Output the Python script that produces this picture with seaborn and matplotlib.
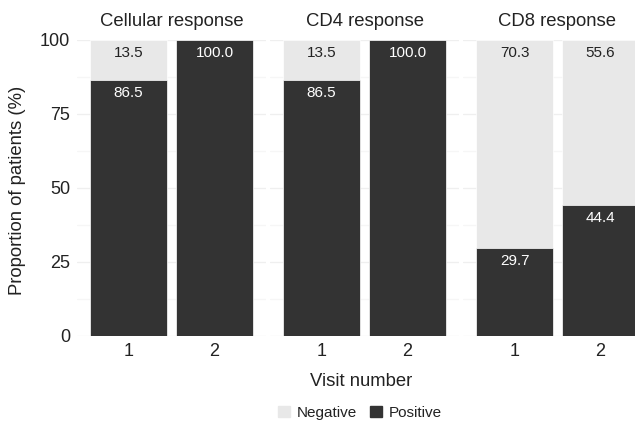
import matplotlib
matplotlib.use("Agg")
import matplotlib.pyplot as plt
import matplotlib.patches as mpatches
import seaborn as sns
import pandas as pd

# ── Data ──────────────────────────────────────────────────────────────────────
PANELS   = ["Cellular response", "CD4 response", "CD8 response"]
VISITS   = ["1", "2"]
POSITIVE = [[86.5, 100.0], [86.5, 100.0], [29.7, 44.4]]
NEGATIVE = [[13.5, 0.0],   [13.5, 0.0],   [70.3, 55.6]]

# ── Style ─────────────────────────────────────────────────────────────────────
NEG_COLOR  = "#e8e8e8"
POS_COLOR  = "#333333"
TEXT_COLOR = "#222222"
W, H = 635, 422

sns.set_theme(style="white")
plt.rcParams["font.family"] = ["Liberation Sans", "DejaVu Sans"]

rows = []
for panel, pos, neg in zip(PANELS, POSITIVE, NEGATIVE):
    for visit, p, n in zip(VISITS, pos, neg):
        rows.append({"panel": panel, "visit": visit, "positive": p,
                     "negative": n, "total": p + n})
df = pd.DataFrame(rows)

fig = plt.figure(figsize=(W / 100, H / 100), dpi=100)

panel_left = [77, 270, 463]
panel_w    = 189
top_px, bottom_px = 40, 336

for i, panel in enumerate(PANELS):
    ax = fig.add_axes([panel_left[i] / W, 1 - bottom_px / H,
                       panel_w / W, (bottom_px - top_px) / H])
    sub = df[df["panel"] == panel]

    # faint grid
    for v in [0, 25, 50, 75, 100]:
        ax.axhline(v, color="#efefef", lw=0.9, zorder=0)
    for v in [12.5, 37.5, 62.5, 87.5]:
        ax.axhline(v, color="#f6f6f6", lw=0.9, zorder=0)

    sns.barplot(data=sub, x="visit", y="total", color=NEG_COLOR, saturation=1,
                width=0.9, errorbar=None, edgecolor="white", linewidth=0.5,
                ax=ax, zorder=2)
    sns.barplot(data=sub, x="visit", y="positive", color=POS_COLOR, saturation=1,
                width=0.9, errorbar=None, edgecolor="white", linewidth=0.5,
                ax=ax, zorder=3)

    for j, (_, r) in enumerate(sub.iterrows()):
        if r["negative"] > 0:
            ax.annotate(f"{r['negative']:.1f}", (j, r["total"]), xytext=(0, -9.5),
                        textcoords="offset points", ha="center", va="center",
                        fontsize=11, color=TEXT_COLOR, zorder=4)
        ax.annotate(f"{r['positive']:.1f}", (j, r["positive"]), xytext=(0, -9.5),
                    textcoords="offset points", ha="center", va="center",
                    fontsize=11, color="white", zorder=4)

    ax.set_xlim(-0.6, 1.6)
    ax.set_ylim(0, 100)
    ax.set_xlabel("")
    ax.set_ylabel("")
    ax.set_yticks([0, 25, 50, 75, 100])
    ax.tick_params(axis="both", length=0, labelsize=13, colors=TEXT_COLOR)
    ax.tick_params(axis="x", pad=5)
    ax.tick_params(axis="y", pad=5)
    if i > 0:
        ax.set_yticklabels([])
    for s in ax.spines.values():
        s.set_visible(False)
    ax.set_facecolor("none")

    fig.text((panel_left[i] + panel_w / 2) / W, 1 - 21 / H, panel,
             ha="center", va="center", fontsize=13.3, color=TEXT_COLOR)

fig.text(18 / W, 1 - 190 / H, "Proportion of patients (%)", rotation=90,
         ha="center", va="center", fontsize=13.3, color=TEXT_COLOR)
fig.text(361 / W, 1 - 382 / H, "Visit number", ha="center", va="center",
         fontsize=13.3, color=TEXT_COLOR)

handles = [mpatches.Patch(color=NEG_COLOR, label="Negative"),
           mpatches.Patch(color=POS_COLOR, label="Positive")]
leg = fig.legend(handles=handles, loc="center", bbox_to_anchor=(360 / W, 1 - 413 / H),
                 ncol=2, frameon=False, fontsize=11, handlelength=0.75,
                 handleheight=0.75, handletextpad=0.45, columnspacing=0.9)
for t in leg.get_texts():
    t.set_color(TEXT_COLOR)

fig.savefig("out.png", dpi=100)
